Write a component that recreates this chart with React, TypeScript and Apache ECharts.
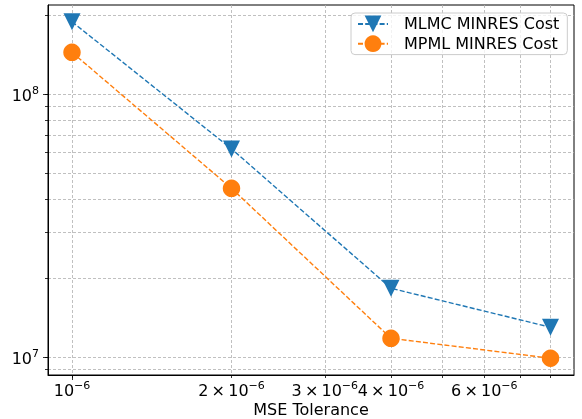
import React, { useEffect, useRef } from "react";
import * as echarts from "echarts";

const tolerances = [1e-6, 2e-6, 4e-6, 8e-6];
const mlmcCost = [1.887e8, 6.2e7, 1.83e7, 1.301e7];
const mpmlCost = [1.444e8, 4.39e7, 1.181e7, 9.92e6];

const xTickValues = [1e-6, 2e-6, 3e-6, 4e-6, 5e-6, 6e-6, 7e-6, 8e-6];
const xMajorTicks = [1e-6];
const xLabelValues = [1e-6, 2e-6, 3e-6, 4e-6, 6e-6];
const yTickValues = [9e6, 1e7, 2e7, 3e7, 4e7, 5e7, 6e7, 7e7, 8e7, 9e7, 1e8, 2e8];
const yMajorTicks = [1e7, 1e8];
const yLabelValues = [1e7, 1e8];

const FONT = "DejaVu Sans";
const rich = {
  b: { fontSize: 16, lineHeight: 18, verticalAlign: "bottom", fontFamily: FONT, color: "#000" },
  s: { fontSize: 11, lineHeight: 8, verticalAlign: "top", fontFamily: FONT, color: "#000" },
};

function fmtX(v: number) {
  const m = Math.round(v / 1e-6);
  return m === 1 ? "{b|10}{s|\u22126}" : `{b|${m}\u2009\u00d7\u200910}{s|\u22126}`;
}
function fmtY(v: number) {
  const e = Math.round(Math.log10(v));
  return `{b|10}{s|${e}}`;
}

export default function App() {
  const ref = useRef<HTMLDivElement>(null);
  useEffect(() => {
    if (!ref.current) return;
    const chart = echarts.init(ref.current, null, { renderer: "svg" });
    const gridLine = { show: true, lineStyle: { color: "#b0b0b0", width: 0.8, type: [3, 2] as any } };
    const xBase = { type: "log" as const, logBase: 10, min: 0.901e-6, max: 8.86e-6, position: "bottom" as const };
    const yBase = { type: "log" as const, logBase: 10, min: 8.566e6, max: 2.185e8, position: "left" as const };
    chart.setOption({
      animation: false,
      grid: {
        left: 48, right: 8, top: 5, bottom: 44,
        outerBoundsMode: "none",
        containLabel: false,
        show: true, borderColor: "#000", borderWidth: 1, backgroundColor: "transparent",
      },
      legend: {
        orient: "vertical",
        left: 351,
        top: 13,
        itemWidth: 30,
        itemHeight: 21,
        itemGap: 3,
        padding: [2.5, 8, 2.5, 6],
        borderColor: "#cccccc",
        borderWidth: 1,
        borderRadius: 4,
        backgroundColor: "rgba(255,255,255,0.8)",
        textStyle: { fontSize: 16, fontFamily: FONT, color: "#000", padding: [0, 0, 0, 11] },
        data: ["MLMC MINRES Cost", "MPML MINRES Cost"],
      },
      xAxis: [
        {
          ...xBase,
          name: "MSE Tolerance",
          nameLocation: "middle",
          nameGap: 26,
          nameMoveOverlap: false,
          nameTextStyle: { fontSize: 16, fontFamily: FONT, color: "#000" },
          axisLine: { show: true, lineStyle: { color: "#000", width: 1 } },
          axisTick: { show: true, length: 3, customValues: xTickValues, lineStyle: { color: "#000", width: 0.8 } },
          axisLabel: { show: true, customValues: xLabelValues, margin: 5, formatter: fmtX, rich, hideOverlap: false },
          splitLine: gridLine,
          minorTick: { show: false },
        },
        {
          ...xBase,
          axisLine: { show: false },
          axisTick: { show: true, length: 5, customValues: xMajorTicks, lineStyle: { color: "#000", width: 0.8 } },
          axisLabel: { show: false },
          splitLine: { show: false },
        },
      ],
      yAxis: [
        {
          ...yBase,
          axisLine: { show: true, lineStyle: { color: "#000", width: 1 } },
          axisTick: { show: true, length: 3, customValues: yTickValues, lineStyle: { color: "#000", width: 0.8 } },
          axisLabel: { show: true, customValues: yLabelValues, margin: 9, formatter: fmtY, rich },
          splitLine: gridLine,
        },
        {
          ...yBase,
          axisLine: { show: false },
          axisTick: { show: true, length: 5, customValues: yMajorTicks, lineStyle: { color: "#000", width: 0.8 } },
          axisLabel: { show: false },
          splitLine: { show: false },
        },
      ],
      series: [
        {
          name: "MLMC MINRES Cost",
          type: "line",
          xAxisIndex: 0,
          yAxisIndex: 0,
          data: tolerances.map((t, i) => [t, mlmcCost[i]]),
          symbol: "triangle",
          symbolRotate: 180,
          symbolSize: 17,
          color: "#1f77b4",
          itemStyle: { color: "#1f77b4" },
          lineStyle: { color: "#1f77b4", width: 1.4, type: [5, 2.2] },
        },
        {
          name: "MPML MINRES Cost",
          type: "line",
          xAxisIndex: 0,
          yAxisIndex: 0,
          data: tolerances.map((t, i) => [t, mpmlCost[i]]),
          symbol: "circle",
          symbolSize: 17.5,
          color: "#ff7f0e",
          itemStyle: { color: "#ff7f0e" },
          lineStyle: { color: "#ff7f0e", width: 1.4, type: [5, 2.2] },
        },
      ],
    });
    return () => chart.dispose();
  }, []);
  return <div ref={ref} style={{ position: "fixed", left: 0, top: 0, width: 582, height: 419 }} />;
}
